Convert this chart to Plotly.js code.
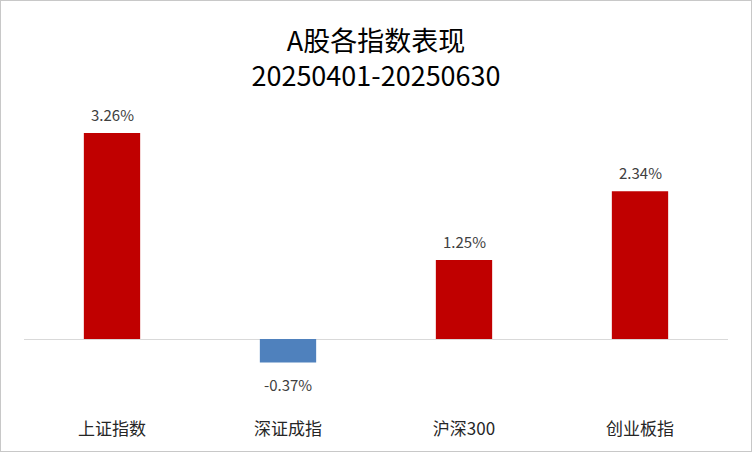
<!DOCTYPE html>
<html>
<head>
<meta charset="utf-8">
<script src="https://cdn.plot.ly/plotly-3.0.1.min.js"></script>
<style>
html,body{margin:0;padding:0;background:#fff;}
#chart{width:752px;height:452px;box-sizing:border-box;border:1px solid #c8c8c8;}
</style>
</head>
<body>
<div id="chart"></div>
<script>
const categories = ["上证指数", "深证成指", "沪深300", "创业板指"];
const values = [3.26, -0.37, 1.25, 2.34];
const titleLine1 = "A股各指数表现";
const titleLine2 = "20250401-20250630";

const RED = "#C00000", BLUE = "#4F81BD";
const FONT = "Noto Sans CJK SC, sans-serif";

const trace = {
  type: "bar",
  x: categories,
  y: values,
  marker: {color: values.map(v => v >= 0 ? RED : BLUE)},
  hoverinfo: "none"
};

const annotations = categories.map((c, i) => ({
  x: c, y: values[i], xref: "x", yref: "y",
  text: values[i].toFixed(2) + "%",
  showarrow: false,
  yanchor: values[i] >= 0 ? "bottom" : "top",
  yshift: values[i] >= 0 ? 6 : -10,
  font: {family: FONT, size: 15, color: "#404040"}
}));

const layout = {
  width: 750, height: 450,
  margin: {l: 23, r: 23, t: 109, b: 34},
  paper_bgcolor: "#fff", plot_bgcolor: "#fff",
  showlegend: false,
  bargap: 0.68,
  title: {
    text: titleLine1 + "<br>" + titleLine2,
    x: 0.5, xanchor: "center",
    y: 1 - 50/450, yref: "container", yanchor: "middle",
    font: {family: FONT, size: 27, color: "#000"}
  },
  xaxis: {
    showline: false, showgrid: false, ticks: "",
    tickfont: {family: FONT, size: 17, color: "#262626"},
    fixedrange: true
  },
  yaxis: {
    range: [-1.234, 3.624],
    showgrid: false, showticklabels: false, ticks: "",
    zeroline: true, zerolinecolor: "#d9d9d9", zerolinewidth: 1,
    fixedrange: true
  },
  annotations: annotations
};

Plotly.newPlot("chart", [trace], layout, {displayModeBar: false, staticPlot: true});
</script>
</body>
</html>
